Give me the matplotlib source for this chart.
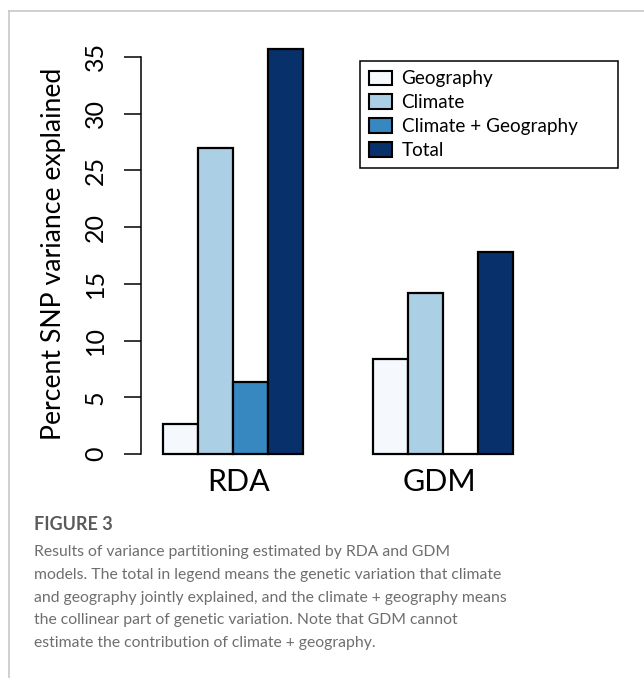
import numpy as np
import matplotlib
matplotlib.use('Agg')
from matplotlib import pyplot as plt
from matplotlib.lines import Line2D
from matplotlib.transforms import ScaledTranslation

# values
groups = ['RDA', 'GDM']
categories = ['Geography', 'Climate', 'Climate + Geography', 'Total']
rda_values = [2.6, 27.0, 6.3, 35.7]
gdm_values = [8.4, 14.2, 0.0, 17.8]
yticks = [0, 5, 10, 15, 20, 25, 30, 35]

colors = ['#f5f9fe', '#abd0e6', '#3787c0', '#08306b']

caption_title = 'FIGURE 3'
caption_lines = [
    'Results of variance partitioning estimated by RDA and GDM',
    'models. The total in legend means the genetic variation that climate',
    'and geography jointly explained, and the climate + geography means',
    'the collinear part of genetic variation. Note that GDM cannot',
    'estimate the contribution of climate + geography.',
]

plt.rcParams['font.family'] = ['Lato', 'DejaVu Sans']

W, H = 644, 678
fig = plt.figure(figsize=(W / 100, H / 100), dpi=100)


def fx(px):
    return px / W


def fy(py):
    return 1 - py / H


# axes: left spine at px 141, y=0 at px 454, bars 35 px wide
ax = fig.add_axes([fx(141), fy(460), fx(630) - fx(141), fy(40) - fy(460)])
bar_w = 1.0
ax.set_xlim(-22 / 35, (630 - 163) / 35)
ax.set_ylim(-6 / 11.35, (454 - 40) / 11.35)

offsets = [0, 6]
for off, vals in zip(offsets, [rda_values, gdm_values]):
    xs = off + np.arange(len(vals)) + bar_w / 2
    ax.bar(xs, vals, width=bar_w, color=colors, edgecolor='black',
           linewidth=1.6, zorder=2)

ax.set_xticks([o + 2 for o in offsets])
ax.set_xticklabels(groups, fontsize=22)
ax.tick_params(axis='x', length=0, pad=6)
# the group names sit a little off centre in the original
for lab, dx in zip(ax.get_xticklabels(), [6, -4]):
    lab.set_transform(lab.get_transform() +
                      ScaledTranslation(dx / 100, 0, fig.dpi_scale_trans))

ax.set_yticks(yticks)
ax.tick_params(axis='y', labelrotation=90, length=12.5, width=1.1,
               pad=12, labelsize=18)
for lab in ax.get_yticklabels():
    lab.set_va('center')

for s in ['top', 'right', 'bottom']:
    ax.spines[s].set_visible(False)
ax.spines['left'].set_bounds(0, 35)
ax.spines['left'].set_linewidth(1.1)

fig.text(fx(54), fy(254), 'Percent SNP variance explained', rotation=90,
         ha='center', va='center', fontsize=19.2)

# legend
handles = [plt.Rectangle((0, 0), 1, 1, facecolor=c, edgecolor='black',
                         linewidth=1.5) for c in colors]
leg = ax.legend(handles, categories, loc='upper left',
                bbox_to_anchor=(fx(360), fy(177), fx(618) - fx(360), fy(61) - fy(177)),
                bbox_transform=fig.transFigure, mode='expand', borderaxespad=0,
                fontsize=13.6, handlelength=1.2, handleheight=0.8,
                handletextpad=0.5, labelspacing=0.36, borderpad=0.5,
                fancybox=False, framealpha=1, edgecolor='black')
leg.get_frame().set_linewidth(1.1)

# page borders
fig.add_artist(Line2D([fx(9), 1], [fy(11), fy(11)], color='#c8c8c8', lw=1.2))
fig.add_artist(Line2D([fx(9), fx(9)], [fy(11), 0], color='#c8c8c8', lw=1.2))

# caption
fig.text(fx(34), fy(525), caption_title, ha='left', va='center',
         fontsize=13, color='#5a5a5a', fontweight='bold')
for i, line in enumerate(caption_lines):
    fig.text(fx(34), fy(552 + 22.8 * i), line, ha='left', va='center',
             fontsize=11.3, color='#6e6e6e')

fig.savefig('out.png', dpi=100)
